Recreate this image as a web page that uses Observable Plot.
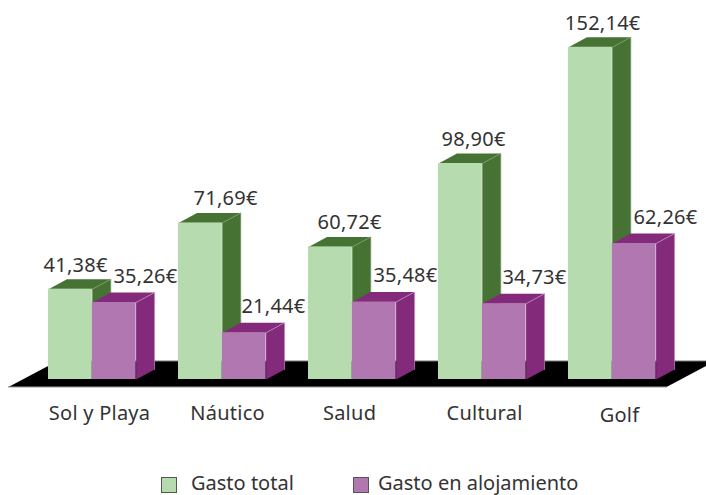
<!DOCTYPE html>
<html><head><meta charset="utf-8">
<script src="https://cdn.jsdelivr.net/npm/d3@7"></script>
<script src="https://cdn.jsdelivr.net/npm/@observablehq/plot@0.6"></script>
<style>
html,body{margin:0;padding:0;background:#fff;overflow:hidden}
#legend{position:relative;height:25px;font:20px/20px "Noto Sans",sans-serif;color:#333}
#legend span{position:absolute;white-space:nowrap;line-height:20px;top:3px}
#legend i{position:absolute;top:7px;width:14px;height:14px;border:1.5px solid #555}
svg{display:block}
</style></head><body>
<div id="chart"></div>
<div id="legend"></div>
<script>
const categories = ["Sol y Playa","Náutico","Salud","Cultural","Golf"];
const gastoTotal = [41.38,71.69,60.72,98.90,152.14];
const gastoAlojamiento = [35.26,21.44,35.48,34.73,62.26];
const seriesNames = ["Gasto total","Gasto en alojamiento"];

const W=706,H=470;
const step=130, pxY=2.184;
const barW=43.8/step, depthX=18.5/step, depthY=10/pxY;
const green={front:"#b6dbae",dark:"#467233",edge:"#7f9f70"};
const purple={front:"#b177b1",dark:"#842a7b",edge:"#c08fc0"};
const fmt=v=>v.toFixed(2).replace(".",",")+"€";

const series=[
 {name:seriesNames[0],values:gastoTotal,col:green,off:0,labelShift:[-4,16,10,4,3],dy:-24},
 {name:seriesNames[1],values:gastoAlojamiento,col:purple,off:barW,labelShift:[22,20,22,21,22],dy:-26}
];
const catShift=[-2,-4,-12,-7,-2], catDy=[34,34,34,34,36];

const marks=[];
// floor
const fy0=-3.4, fy1=8.5, fl=-0.308, fb=0.069, fr=4.754, fbr=5.13;
const floor=[{x:fl,y:fy0},{x:fb,y:fy1},{x:fbr,y:fy1},{x:fr,y:fy0}];
marks.push(Plot.line(floor,{x:"x",y:"y",fill:"#000",stroke:"none"}));
marks.push(Plot.line([floor[0],floor[3]],{x:"x",y:"y",stroke:"#8a8a8a",strokeWidth:1}));
marks.push(Plot.line([floor[1],floor[2]],{x:"x",y:"y",stroke:"#8a8a8a",strokeWidth:1}));

for(const s of series){
  const side=[],top=[],front=[],edges=[];
  s.values.forEach((v,i)=>{
    const x0=i+s.off,x1=x0+barW,x2=x1+depthX,x3=x0+depthX,yb=depthY,yt=v+depthY;
    side.push({id:i,x:x1,y:0},{id:i,x:x2,y:yb},{id:i,x:x2,y:yt},{id:i,x:x1,y:v});
    top.push({id:i,x:x0,y:v},{id:i,x:x1,y:v},{id:i,x:x2,y:yt},{id:i,x:x3,y:yt});
    edges.push({id:i,x:x1,y:v},{id:i,x:x2,y:yt},{id:i,x:x2,y:yb});
    front.push({x1:x0,x2:x1,y1:0,y2:v});
  });
  marks.push(Plot.line(side,{x:"x",y:"y",z:"id",fill:s.col.dark,stroke:"none"}));
  marks.push(Plot.line(top,{x:"x",y:"y",z:"id",fill:s.col.dark,stroke:"none"}));
  marks.push(Plot.line(edges,{x:"x",y:"y",z:"id",stroke:s.col.edge,strokeWidth:0.7}));
  marks.push(Plot.rect(front,{x1:"x1",x2:"x2",y1:"y1",y2:"y2",fill:s.col.front}));
}
const font={fontFamily:"'Noto Sans',sans-serif",fontSize:20,fill:"#333",stroke:"none"};
for(const s of series){
  s.values.forEach((v,i)=>{
    marks.push(Plot.text([v],{x:()=>i+s.off+barW/2+depthX/2,y:d=>d,text:fmt,dx:s.labelShift[i],dy:s.dy,...font}));
  });
}
categories.forEach((c,i)=>{
  marks.push(Plot.text([c],{x:()=>i+barW+depthX/2,y:()=>0,text:d=>d,dx:catShift[i],dy:catDy[i],...font}));
});

const plot=Plot.plot({width:W,height:H,margin:0,
  x:{type:"linear",domain:[-48/step,(W-48)/step],range:[0,W],axis:null},
  y:{type:"linear",domain:[(379-H)/pxY,379/pxY],range:[H,0],axis:null},
  style:{background:"transparent",letterSpacing:"0.25px"},
  marks});
document.getElementById("chart").append(plot);

const lg=document.getElementById("legend");
[[161,191,green.front],[353,378,purple.front]].forEach(([sx,tx,c],i)=>{
  const sw=document.createElement("i");sw.style.left=sx+"px";sw.style.background=c;lg.append(sw);
  const t=document.createElement("span");t.style.left=tx+"px";t.textContent=seriesNames[i];lg.append(t);
});
</script>
</body></html>
